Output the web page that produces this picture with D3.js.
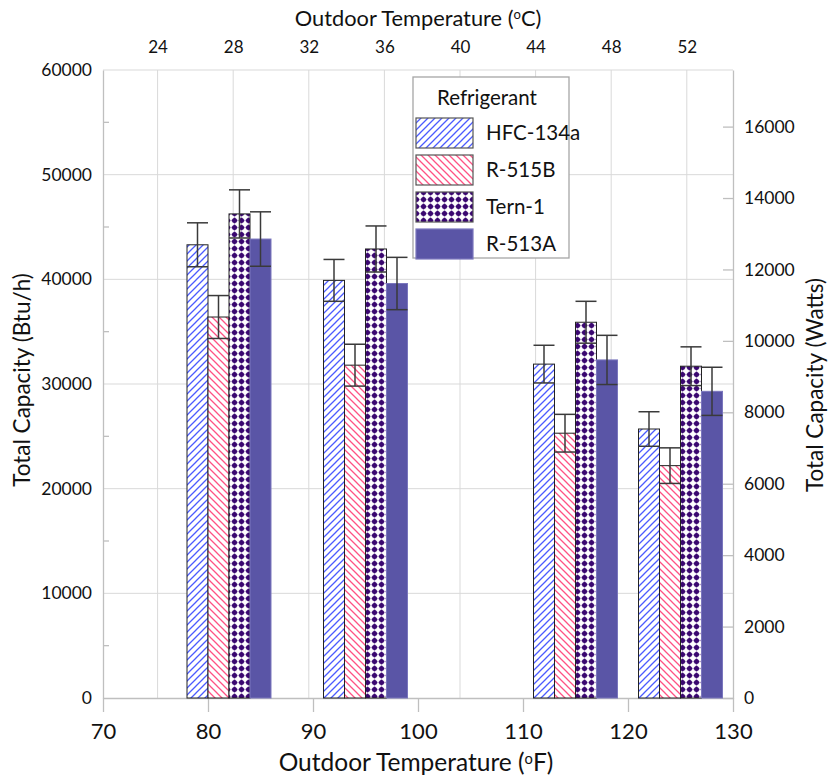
<!DOCTYPE html>
<html>
<head>
<meta charset="utf-8">
<script src="https://cdn.jsdelivr.net/npm/d3@7"></script>
<style>
  body { margin: 0; background: #fff; }
  svg text { font-family: Lato, "Open Sans", sans-serif; fill: #111; }
</style>
</head>
<body>
<svg id="chart" width="829" height="775"></svg>
<script>
// data
var groupTempsF = [82, 95, 115, 125];
var refrigerants = ["HFC-134a", "R-515B", "Tern-1", "R-513A"];

var hfc134a = [43300, 39900, 31900, 25700];
var hfc134aErr = [2100, 2000, 1800, 1650];
var r515b = [36400, 31800, 25300, 22200];
var r515bErr = [2050, 2000, 1800, 1700];
var tern1 = [46250, 42900, 35900, 31700];
var tern1Err = [2300, 2200, 2000, 1850];
var r513a = [43850, 39600, 32300, 29300];
var r513aErr = [2600, 2500, 2350, 2300];

var fTicks = [70, 80, 90, 100, 110, 120, 130];
var cTicks = [24, 28, 32, 36, 40, 44, 48, 52];
var btuTicks = [0, 10000, 20000, 30000, 40000, 50000, 60000];
var btuMinor = [5000, 15000, 25000, 35000, 45000, 55000];
var wattTicks = [0, 2000, 4000, 6000, 8000, 10000, 12000, 14000, 16000];

var seriesValues = [hfc134a, r515b, tern1, r513a];
var seriesErrors = [hfc134aErr, r515bErr, tern1Err, r513aErr];
var fills = ["url(#hatchBlue)", "url(#hatchPink)", "url(#dotsPurple)", "#5a55a6"];
var strokes = ["#222", "#222", "#222", "#7a76bd"];

var plotLeft = 103, plotRight = 733, plotTop = 70, plotBottom = 698;
var svg = d3.select("#chart");

var x = d3.scaleLinear().domain([70, 130]).range([plotLeft, plotRight]);
var xC = d3.scaleLinear().domain([(70 - 32) / 1.8, (130 - 32) / 1.8]).range([plotLeft, plotRight]);
var y = d3.scaleLinear().domain([0, 60000]).range([plotBottom, plotTop]);
var yW = d3.scaleLinear().domain([0, 60000 / 3.412]).range([plotBottom, plotTop]);

// patterns
var defs = svg.append("defs");
var p1 = defs.append("pattern").attr("id", "hatchBlue")
  .attr("patternUnits", "userSpaceOnUse").attr("width", 7).attr("height", 7);
p1.append("rect").attr("width", 7).attr("height", 7).attr("fill", "#fff");
p1.append("path").attr("d", "M-1,1 l2,-2 M0,7 l7,-7 M6,8 l2,-2")
  .attr("stroke", "#4b5bff").attr("stroke-width", 1.3);

var p2 = defs.append("pattern").attr("id", "hatchPink")
  .attr("patternUnits", "userSpaceOnUse").attr("width", 7).attr("height", 7);
p2.append("rect").attr("width", 7).attr("height", 7).attr("fill", "#fff");
p2.append("path").attr("d", "M-1,6 l2,2 M0,0 l7,7 M6,-1 l2,2")
  .attr("stroke", "#ff5284").attr("stroke-width", 1.3);

var p3 = defs.append("pattern").attr("id", "dotsPurple")
  .attr("patternUnits", "userSpaceOnUse").attr("width", 7).attr("height", 7);
p3.append("rect").attr("width", 7).attr("height", 7).attr("fill", "#fff");
p3.append("circle").attr("cx", 3.5).attr("cy", 3.5).attr("r", 2.5).attr("fill", "#3a0770");
p3.append("rect").attr("x", 0.6).attr("y", 2.8).attr("width", 5.8).attr("height", 1.4).attr("fill", "#3a0770");
p3.append("rect").attr("x", 2.8).attr("y", 0.6).attr("width", 1.4).attr("height", 5.8).attr("fill", "#3a0770");

// grid lines
svg.append("g").selectAll("line").data(btuTicks.slice(1)).enter().append("line")
  .attr("x1", plotLeft).attr("x2", plotRight)
  .attr("y1", function(d) { return y(d); }).attr("y2", function(d) { return y(d); })
  .attr("stroke", "#d9d9d9").attr("stroke-width", 1);
svg.append("g").selectAll("line").data(cTicks).enter().append("line")
  .attr("x1", function(d) { return xC(d); }).attr("x2", function(d) { return xC(d); })
  .attr("y1", plotTop).attr("y2", plotBottom)
  .attr("stroke", "#d9d9d9").attr("stroke-width", 1);

// axes
var axisColor = "#bfbfbf";
function styleAxis(g) {
  g.select(".domain").attr("stroke", axisColor).attr("stroke-width", 1.3);
  g.selectAll(".tick line").attr("stroke", axisColor).attr("stroke-width", 1.3);
  g.selectAll("text").attr("fill", "#111").style("font-family", "Lato, sans-serif");
}

svg.append("g").attr("transform", "translate(0," + plotBottom + ")")
  .call(d3.axisBottom(x).tickValues(fTicks).tickSize(14).tickSizeOuter(0).tickPadding(11))
  .call(styleAxis)
  .selectAll("text").style("font-size", "22px");

svg.append("g").attr("transform", "translate(0," + plotTop + ")")
  .call(d3.axisTop(xC).tickValues(cTicks).tickSize(0).tickPadding(17))
  .call(styleAxis)
  .call(function(g) { g.select(".domain").remove(); })
  .selectAll("text").style("font-size", "17px");

svg.append("g").attr("transform", "translate(" + plotLeft + ",0)")
  .call(d3.axisLeft(y).tickValues(btuTicks).tickSize(0).tickSizeOuter(0).tickPadding(11).tickFormat(d3.format("d")))
  .call(styleAxis)
  .selectAll("text").style("font-size", "17.5px");

svg.append("g").selectAll("line").data(btuMinor).enter().append("line")
  .attr("x1", plotLeft).attr("x2", plotLeft + 6)
  .attr("y1", function(d) { return y(d); }).attr("y2", function(d) { return y(d); })
  .attr("stroke", axisColor).attr("stroke-width", 1.3);

svg.append("g").attr("transform", "translate(" + plotRight + ",0)")
  .call(d3.axisRight(yW).tickValues(wattTicks).tickSize(-10).tickSizeOuter(0).tickFormat(d3.format("d")))
  .call(styleAxis)
  .selectAll("text").attr("x", 11).style("font-size", "17.5px");

// bars
refrigerants.forEach(function(name, i) {
  var off = (i - 1.5) * 2;
  var g = svg.append("g");
  g.selectAll("rect").data(groupTempsF).enter().append("rect")
    .attr("x", function(d) { return x(d + off - 1); })
    .attr("width", function(d) { return x(d + off + 1) - x(d + off - 1); })
    .attr("y", function(d, j) { return y(seriesValues[i][j]); })
    .attr("height", function(d, j) { return y(0) - y(seriesValues[i][j]); })
    .attr("fill", fills[i]).attr("stroke", strokes[i]).attr("stroke-width", 1);
});

// error bars
refrigerants.forEach(function(name, i) {
  var off = (i - 1.5) * 2;
  var g = svg.append("g").attr("stroke", "#3a3a3a").attr("stroke-width", 1.5);
  groupTempsF.forEach(function(t, j) {
    var cx = x(t + off);
    var hw = (x(t + off + 1) - x(t + off - 1)) / 2;
    var v = seriesValues[i][j], e = seriesErrors[i][j];
    g.append("line").attr("x1", cx).attr("x2", cx).attr("y1", y(v + e)).attr("y2", y(v - e));
    g.append("line").attr("x1", cx - hw).attr("x2", cx + hw).attr("y1", y(v + e)).attr("y2", y(v + e));
    g.append("line").attr("x1", cx - hw).attr("x2", cx + hw).attr("y1", y(v - e)).attr("y2", y(v - e));
  });
});

// titles
function degLabel(sel, pre, unit) {
  sel.append("tspan").text(pre + "(");
  sel.append("tspan").text("o").style("font-size", "0.6em").attr("dy", "-0.5em");
  sel.append("tspan").text(unit + ")").attr("dy", "0.3em");
}
svg.append("text").attr("x", 418).attr("y", 26).attr("text-anchor", "middle")
  .style("font-size", "21.8px").call(degLabel, "Outdoor Temperature ", "C");
svg.append("text").attr("x", 416).attr("y", 771).attr("text-anchor", "middle")
  .style("font-size", "24.5px").call(degLabel, "Outdoor Temperature ", "F");
svg.append("text").attr("transform", "translate(30,380) rotate(-90)")
  .attr("text-anchor", "middle").style("font-size", "22.5px").text("Total Capacity (Btu/h)");
svg.append("text").attr("transform", "translate(823,385) rotate(-90)")
  .attr("text-anchor", "middle").style("font-size", "22.5px").text("Total Capacity (Watts)");

// legend
var lg = svg.append("g").attr("transform", "translate(413,77)");
lg.append("rect").attr("width", 156).attr("height", 181)
  .attr("fill", "#fff").attr("stroke", "#a6a6a6").attr("stroke-width", 1.3);
lg.append("text").attr("x", 74).attr("y", 28).attr("text-anchor", "middle")
  .style("font-size", "20.5px").text("Refrigerant");
refrigerants.forEach(function(name, i) {
  var yy = 41 + i * 37;
  lg.append("rect").attr("x", 3).attr("y", yy).attr("width", 57).attr("height", 30)
    .attr("fill", fills[i]).attr("stroke", i == 3 ? strokes[3] : "#555").attr("stroke-width", 1.2);
  lg.append("text").attr("x", 73).attr("y", yy + 22).style("font-size", "20.5px").text(name);
});
</script>
</body>
</html>
